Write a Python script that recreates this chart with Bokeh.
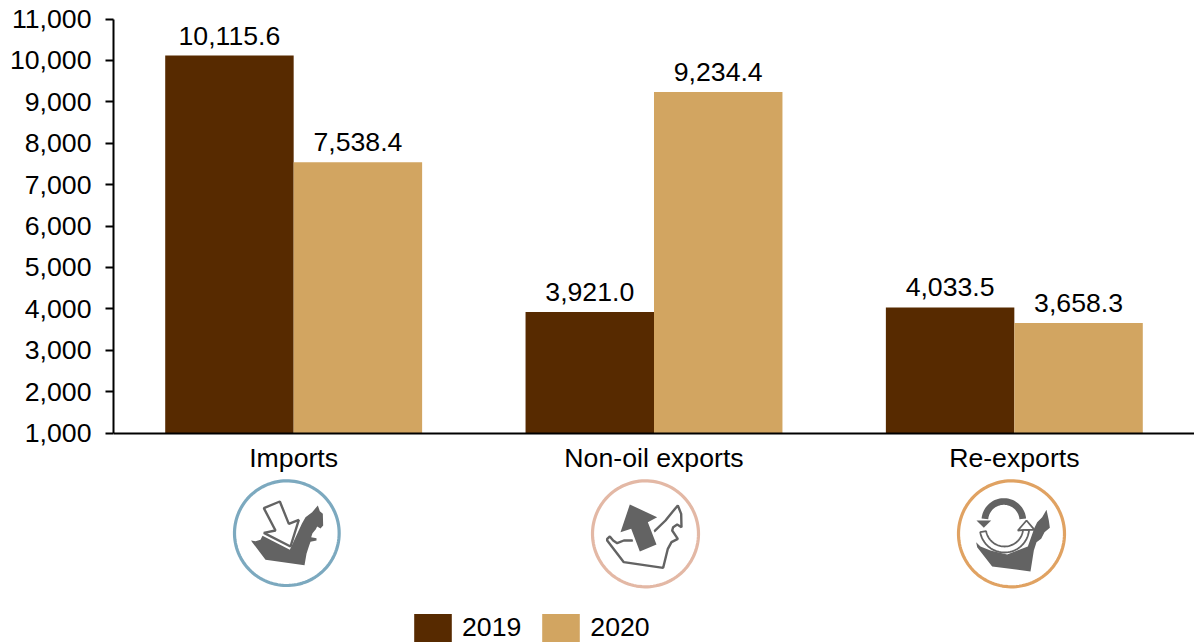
import numpy as np
from bokeh.core.properties import value
from bokeh.embed import file_html
from bokeh.models import ColumnDataSource, FactorRange, FixedTicker, Legend, LegendItem, NumeralTickFormatter, Range1d
from bokeh.plotting import figure
from bokeh.resources import INLINE
from bokeh.transform import dodge

categories = ["Imports", "Non-oil exports", "Re-exports"]
values_2019 = [10115.6, 3921.0, 4033.5]
values_2020 = [7538.4, 9234.4, 3658.3]
y_ticks = [1000, 2000, 3000, 4000, 5000, 6000, 7000, 8000, 9000, 10000, 11000]

FONT = "Liberation Sans"
C19, C20, DARK = "#572A00", "#D2A561", "#636363"
FS = "26.67px"

# geometry of the plot frame: the frame runs to the bottom so icons and legend are inside it
LEFT, TOP, AXIS_Y, BOTTOM, RIGHT = 113, 18, 432.5, 644, 1194
PX_PER_UNIT = 0.0414
PX_PER_CAT = (RIGHT - LEFT) / 3


def data_x(px):
    return (np.asarray(px, float) - LEFT) / PX_PER_CAT


def data_y(py):
    return 1000 + (AXIS_Y - np.asarray(py, float)) / PX_PER_UNIT


src = ColumnDataSource(dict(
    cat=categories,
    v19=values_2019,
    v20=values_2020,
    t19=[f"{v:,.1f}" for v in values_2019],
    t20=[f"{v:,.1f}" for v in values_2020],
))

p = figure(
    width=RIGHT, height=BOTTOM, x_range=FactorRange(factors=categories, range_padding=0),
    y_range=Range1d(float(data_y(BOTTOM)), float(data_y(TOP))), output_backend="svg", toolbar_location=None,
    min_border_left=LEFT, min_border_right=0, min_border_top=TOP, min_border_bottom=0,
    outline_line_color=None,
)
p.grid.visible = False
p.xaxis.fixed_location = 1000
p.xaxis.major_tick_line_color = None
p.xaxis.minor_tick_line_color = None
p.xaxis.axis_line_color = "black"
p.xaxis.axis_line_width = 2
p.xaxis.major_label_text_font = FONT
p.xaxis.major_label_text_font_size = FS
p.xaxis.major_label_text_color = "black"
p.xaxis.major_label_standoff = 4

p.yaxis.bounds = (1000, 11000)
p.yaxis.ticker = FixedTicker(ticks=y_ticks)
p.yaxis.formatter = NumeralTickFormatter(format="0,0")
p.yaxis.minor_tick_line_color = None
p.yaxis.axis_line_color = "black"
p.yaxis.axis_line_width = 2
p.yaxis.major_tick_line_color = "black"
p.yaxis.major_tick_line_width = 2
p.yaxis.major_tick_out = 8
p.yaxis.major_tick_in = 0
p.yaxis.major_label_text_font = FONT
p.yaxis.major_label_text_font_size = FS
p.yaxis.major_label_text_color = "black"
p.yaxis.major_label_standoff = 14

W = 0.3565
r19 = p.vbar(x=dodge("cat", -W / 2, range=p.x_range), top="v19", bottom=1000, width=W, source=src, fill_color=C19, line_color=None)
r20 = p.vbar(x=dodge("cat", W / 2, range=p.x_range), top="v20", bottom=1000, width=W, source=src, fill_color=C20, line_color=None)
for col, txt, off in (("v19", "t19", -W / 2), ("v20", "t20", W / 2)):
    p.text(x=dodge("cat", off, range=p.x_range), y=col, text=txt, source=src, text_align="center",
           text_baseline="bottom", y_offset=-11, text_font=value(FONT), text_font_size=value(FS), text_color="black")

legend = Legend(
    items=[LegendItem(label="2019", renderers=[r19]), LegendItem(label="2020", renderers=[r20])],
    orientation="horizontal", location=(296, -1), glyph_width=47, glyph_height=35,
    label_text_font=FONT, label_text_font_size=FS, label_text_color="black", spacing=16,
    label_standoff=6, padding=0, margin=0, border_line_color=None, background_fill_alpha=0,
)
p.add_layout(legend, "center")


def poly(ox, oy, pts, fill=None, line=None, lw=0):
    pts = np.asarray(pts, float)
    p.patch(data_x(ox + pts[:, 0] / 3), data_y(oy + pts[:, 1] / 3),
            fill_color=fill or "white", fill_alpha=1 if fill else 0,
            line_color=line or "white", line_alpha=1 if line else 0, line_width=lw)


def arc(cx, cy, r, a0, a1, n=40):
    t = np.radians(np.linspace(a0, a1, n))
    return np.column_stack([cx + r * np.cos(t), cy - r * np.sin(t)])


def band(cx, cy, r0, r1, a0, a1):
    return np.vstack([arc(cx, cy, r1, a0, a1), arc(cx, cy, r0, a1, a0)])


# icon 1: Imports
O1 = (210, 470)
poly(*O1, arc(229, 188, 157, 0, 360, 120), line="#7CA9BF", lw=3.2)
poly(*O1, [(116, 200), (122, 210), (135, 212), (150, 208), (156, 196), (238, 238), (274, 160), (285, 140), (305, 125),
           (322, 105), (328, 122), (337, 130), (338, 165), (330, 174), (320, 168), (316, 176), (306, 188), (302, 200),
           (318, 203), (318, 210), (300, 214), (295, 228), (288, 250), (282, 284), (165, 268), (125, 215)], fill=DARK)
poly(*O1, [(160, 113), (208, 93), (235, 160), (265, 148), (240, 228), (160, 187), (195, 180)], fill="white", line=DARK, lw=2.4)

# icon 2: Non-oil exports
O2 = (570, 470)
poly(*O2, arc(225, 190, 159, 0, 360, 120), line="#E3B8A5", lw=3.2)
poly(*O2, [(110, 205), (118, 198), (128, 210), (140, 218), (160, 210), (185, 210), (252, 182), (285, 150), (305, 125),
           (322, 105), (332, 130), (333, 170), (320, 162), (308, 170), (305, 180), (322, 205), (303, 215), (292, 235), (278, 292),
           (160, 275), (110, 210)], line=DARK, lw=2.4)
ARROW2 = [(178, 102), (260, 140), (232, 155), (258, 222), (208, 243), (182, 175), (150, 185)]
poly(*O2, ARROW2, fill=DARK, line="white", lw=5)
poly(*O2, ARROW2, fill=DARK)

# icon 3: Re-exports
O3 = (940, 470)
poly(*O3, arc(213, 190, 159, 0, 360, 120), line="#E0A262", lw=3.2)
poly(*O3, [(107, 215), (120, 228), (150, 240), (200, 252), (262, 228), (282, 172), (290, 155), (305, 140), (318, 118),
           (325, 150), (328, 172), (312, 185), (302, 205), (288, 215), (280, 240), (270, 303), (155, 288), (110, 230)], fill=DARK)
poly(*O3, band(190, 150, 47, 67, 5, 175), fill=DARK)
poly(*O3, [(108, 150), (152, 150), (130, 172)], fill=DARK)
poly(*O3, band(192, 172, 56, 74, 190, 355), fill="white", line=DARK, lw=1.8)
poly(*O3, [(232, 180), (258, 150), (282, 178), (266, 178), (250, 178)], fill="white", line=DARK, lw=1.8)

open("out.html", "w").write(file_html(p, INLINE))
